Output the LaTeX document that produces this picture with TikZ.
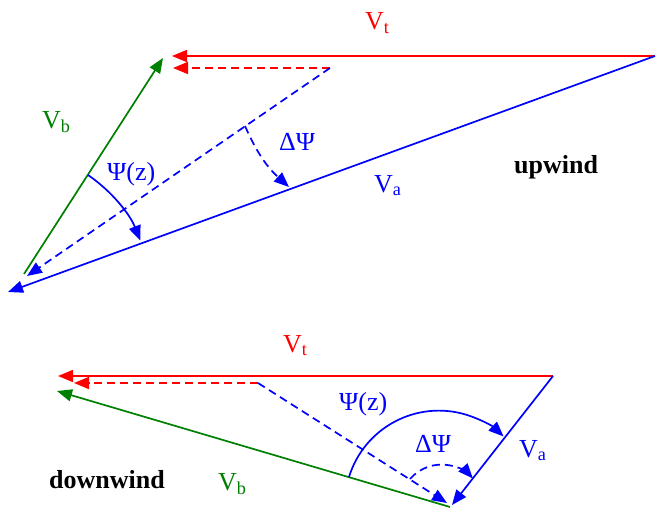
\documentclass[tikz,border=0pt]{standalone}
\usepackage{fontspec}
\setmainfont{Liberation Serif}
\usetikzlibrary{arrows.meta}
\definecolor{vgreen}{RGB}{0,128,0}
\begin{document}
\begin{tikzpicture}[x=1pt,y=-1pt,
  vec/.style={line width=1.7pt,-{Triangle[length=15pt,width=12pt]}},
  dvec/.style={vec,dash pattern=on 8pt off 5pt},
  lbl/.style={font=\fontsize{26}{30}\selectfont,anchor=base west,inner sep=0pt},
  bold/.style={lbl,font=\fontsize{26}{30}\selectfont\bfseries}]
\useasboundingbox (0,0) rectangle (658,511);
% ---------- upwind ----------
\coordinate (uA) at (655,56);
\coordinate (uT) at (172,56);
\coordinate (uD) at (330,68);
\coordinate (uDT) at (173,68);
\coordinate (uGs) at (24,274);
\coordinate (uGe) at (163,58);
\coordinate (uVa) at (8,292);
\coordinate (uDa) at (27,276);
\coordinate (uP1) at (88,175);
\coordinate (uQ1) at (245,126);
\coordinate (uQ2) at (289,187);
\draw[vec,red] (uA) -- (uT);
\draw[dvec,red] (uD) -- (uDT);
\draw[vec,vgreen] (uGs) -- (uGe);
\draw[vec,blue] (uA) -- (uVa);
\draw[dvec,blue] (uD) -- (uDa);
\draw[vec,blue] (uP1) arc[start angle=-55.6, end angle=-21.5, radius=143];
\draw[dvec,blue] (uQ1) to[bend right=12] (uQ2);
\node[lbl,red] (uVt) at (365,30) {V\textsubscript{t}};
\node[lbl,vgreen] (uVb) at (42,128) {V\textsubscript{b}};
\node[lbl,blue] (uPsi) at (107,180) {Ψ(z)};
\node[lbl,blue] (uDPsi) at (279,150) {ΔΨ};
\node[lbl,blue] (uVaL) at (374,192) {V\textsubscript{a}};
\node[bold] (up) at (514,173) {upwind};
% ---------- downwind ----------
\coordinate (dA) at (553,376);
\coordinate (dT) at (58,376);
\coordinate (dD) at (258,383);
\coordinate (dDT) at (74,383);
\coordinate (dGs) at (450,507);
\coordinate (dGe) at (57,391);
\coordinate (dVa) at (452,505);
\coordinate (dDa) at (447,503);
\coordinate (dP1) at (349,477);
\coordinate (dQ1) at (410,479);
\draw[vec,red] (dA) -- (dT);
\draw[dvec,red] (dD) -- (dDT);
\draw[vec,vgreen] (dGs) -- (dGe);
\draw[vec,blue] (dA) -- (dVa);
\draw[dvec,blue] (dD) -- (dDa);
\draw[vec,blue] (dP1) arc[start angle=197.1, end angle=313.5, radius=94];
\draw[dvec,blue] (dQ1) arc[start angle=221, end angle=318, radius=42];
\node[lbl,red] (dVt) at (283,352) {V\textsubscript{t}};
\node[lbl,vgreen] (dVb) at (218,490) {V\textsubscript{b}};
\node[lbl,blue] (dPsi) at (339,410) {Ψ(z)};
\node[lbl,blue] (dDPsi) at (415,452) {ΔΨ};
\node[lbl,blue] (dVaL) at (519,457) {V\textsubscript{a}};
\node[bold] (down) at (49,488) {downwind};
\end{tikzpicture}
\end{document}
